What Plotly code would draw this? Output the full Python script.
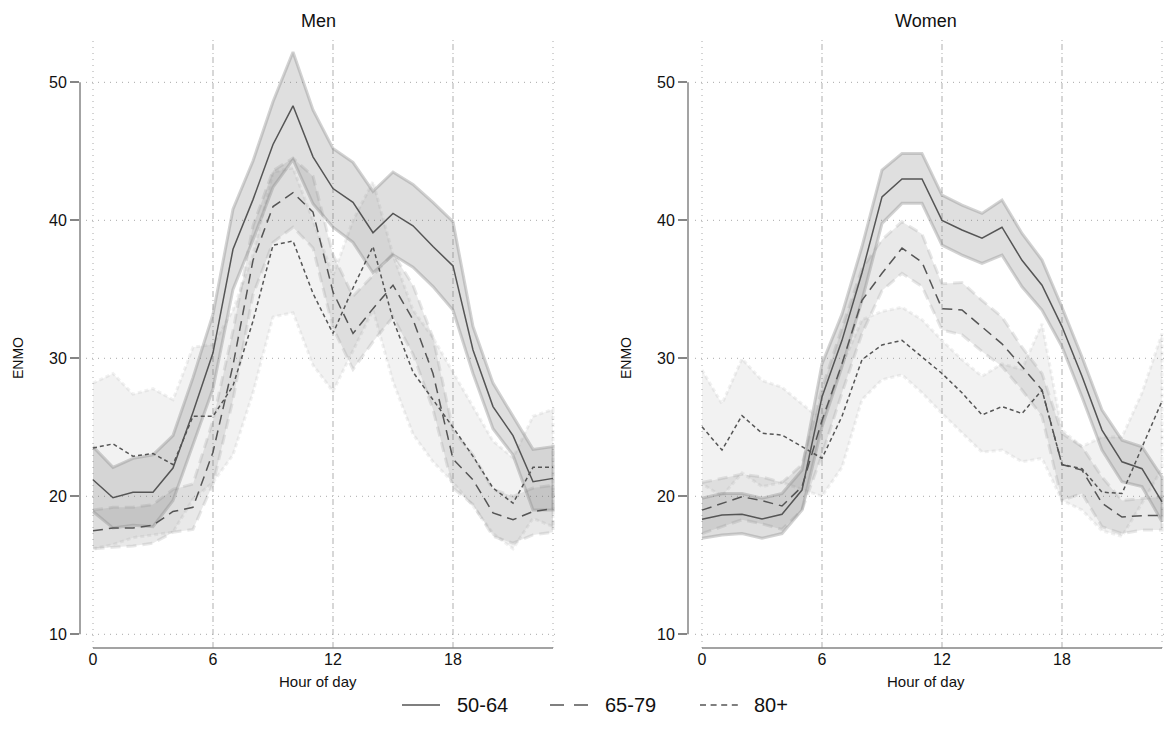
import plotly.graph_objects as go

# ---- data: mean ENMO by hour of day, with 95% confidence bands ----
hours = list(range(24))

men_5064 = [21.2, 19.9, 20.3, 20.3, 22.05, 26.1, 30.4, 37.9, 41.5, 45.5, 48.3, 44.6,
            42.3, 41.3, 39.1, 40.5, 39.6, 38.1, 36.7, 30.6, 26.5, 24.4, 21.06, 21.3]
men_5064_hi = [23.6, 22.1, 22.75, 23.0, 24.4, 28.6, 33.2, 40.8, 44.3, 48.6, 52.2, 48.0,
               45.2, 44.2, 42.1, 43.5, 42.6, 41.3, 39.9, 32.3, 28.2, 25.8, 23.4, 23.6]
men_5064_lo = [18.9, 17.7, 17.9, 17.8, 19.7, 23.7, 27.8, 35.0, 38.6, 42.4, 44.4, 41.2,
               39.5, 38.4, 36.2, 37.5, 36.6, 35.2, 33.5, 28.9, 24.9, 23.0, 19.0, 19.0]

men_6579 = [17.5, 17.7, 17.7, 17.9, 18.9, 19.2, 23.2, 29.5, 37.1, 41.0, 42.0, 40.6,
            34.8, 31.8, 33.6, 35.3, 32.8, 28.9, 22.7, 21.2, 18.8, 18.3, 18.9, 19.1]
men_6579_hi = [19.0, 19.2, 19.2, 19.4, 20.5, 20.9, 25.5, 32.0, 39.6, 43.6, 44.5, 43.2,
               37.5, 34.5, 36.0, 37.6, 35.3, 31.5, 24.8, 23.0, 20.5, 20.0, 20.6, 20.8]
men_6579_lo = [16.2, 16.3, 16.4, 16.6, 17.4, 17.6, 20.9, 27.0, 34.6, 38.4, 39.5, 38.0,
               32.2, 29.2, 31.2, 33.0, 30.3, 26.3, 20.6, 19.4, 17.1, 16.6, 17.2, 17.4]

men_80 = [23.5, 23.8, 22.9, 23.1, 22.3, 25.8, 25.8, 28.0, 32.7, 38.2, 38.5, 34.7,
          31.8, 35.1, 38.1, 32.8, 29.0, 27.0, 25.0, 22.9, 20.6, 19.5, 22.1, 22.1]
men_80_hi = [28.2, 28.9, 27.4, 27.8, 27.0, 30.8, 31.0, 33.5, 37.5, 43.5, 43.8, 40.0,
             36.0, 40.0, 42.8, 37.5, 33.5, 31.5, 29.0, 26.5, 24.0, 22.8, 25.8, 26.3]
men_80_lo = [16.2, 16.5, 17.0, 17.2, 17.4, 19.8, 21.0, 23.0, 27.5, 33.0, 33.3, 29.5,
             27.6, 30.5, 33.5, 28.3, 24.5, 22.5, 21.0, 19.3, 17.3, 16.2, 18.4, 17.8]

women_5064 = [18.33, 18.65, 18.7, 18.35, 18.7, 20.45, 27.2, 31.3, 36.2, 41.7, 43.0, 43.0,
              40.0, 39.3, 38.7, 39.5, 37.1, 35.3, 32.3, 28.7, 24.8, 22.5, 22.0, 19.6]
women_5064_hi = [19.86, 20.2, 20.2, 19.86, 20.2, 21.9, 29.6, 33.2, 38.1, 43.64, 44.85, 44.85,
                 41.83, 41.1, 40.5, 41.47, 39.05, 37.12, 33.7, 30.1, 26.25, 24.07, 23.59, 21.4]
women_5064_lo = [16.96, 17.2, 17.3, 16.96, 17.3, 19.0, 25.04, 29.4, 34.2, 39.78, 41.23, 41.23,
                 38.21, 37.48, 36.88, 37.48, 35.18, 33.5, 30.84, 27.2, 23.35, 21.06, 20.7, 18.16]

women_6579 = [19.0, 19.5, 19.97, 19.68, 19.3, 20.7, 25.5, 29.6, 34.2, 36.16, 37.99, 36.96,
              33.6, 33.5, 32.25, 31.05, 29.4, 27.7, 22.3, 21.9, 19.5, 18.5, 18.6, 18.6]
women_6579_hi = [21.0, 21.3, 21.6, 21.4, 21.0, 22.3, 27.8, 32.2, 36.5, 38.6, 39.9, 39.0,
                 35.4, 35.5, 34.2, 33.0, 30.8, 28.9, 24.56, 23.6, 21.4, 19.7, 19.85, 19.97]
women_6579_lo = [17.3, 17.8, 18.3, 18.0, 17.6, 19.0, 23.0, 27.5, 31.8, 34.9, 36.16, 35.2,
                 32.05, 31.7, 30.5, 29.4, 27.7, 25.8, 19.7, 20.2, 17.8, 17.3, 17.55, 17.55]

women_80 = [25.04, 23.35, 25.85, 24.57, 24.44, 23.6, 22.75, 25.8, 29.9, 30.97, 31.3, 30.1,
            28.9, 27.5, 25.9, 26.5, 26.0, 27.7, 22.3, 22.0, 20.3, 20.2, 23.5, 26.9]
women_80_hi = [29.15, 26.7, 29.96, 28.4, 27.9, 26.7, 25.5, 29.5, 32.8, 33.4, 33.7, 32.8,
               31.3, 29.9, 28.7, 29.6, 29.2, 32.5, 24.8, 23.6, 24.3, 24.3, 27.5, 31.8]
women_80_lo = [20.9, 20.0, 21.7, 20.7, 21.0, 20.5, 20.0, 22.1, 27.0, 28.45, 28.8, 27.5,
               26.0, 24.6, 23.2, 23.35, 22.5, 22.75, 19.7, 19.0, 17.5, 17.1, 19.5, 22.0]

age_groups = ["50-64", "65-79", "80+"]
panel_titles = ["Men", "Women"]
y_ticks = [10, 20, 30, 40, 50]
x_ticks = [0, 6, 12, 18]
x_lines_dashdot = [6, 12, 18]
x_lines_dotted = [0, 23]

panels = [
    {"50-64": (men_5064, men_5064_lo, men_5064_hi),
     "65-79": (men_6579, men_6579_lo, men_6579_hi),
     "80+": (men_80, men_80_lo, men_80_hi)},
    {"50-64": (women_5064, women_5064_lo, women_5064_hi),
     "65-79": (women_6579, women_6579_lo, women_6579_hi),
     "80+": (women_80, women_80_lo, women_80_hi)},
]

# ---- styling ----
W, H = 1165, 745
FONT = "Arial, 'Liberation Sans', Helvetica, sans-serif"
TEXT_COLOR = "#111111"
LINE_COLOR = "#555555"
AXIS_COLOR = "#858585"
GRID_COLOR = "#a8a8a8"

line_dash = {"50-64": "solid", "65-79": "10px,6px", "80+": "4px,3px"}
legend_dash = {"50-64": "solid", "65-79": "14px,10px", "80+": "6px,4.6px"}
band_fill = {"50-64": "rgba(110,110,110,0.22)",
             "65-79": "rgba(110,110,110,0.15)",
             "80+": "rgba(110,110,110,0.09)"}
band_edge = {"50-64": "rgba(140,140,140,0.38)",
             "65-79": "rgba(140,140,140,0.20)",
             "80+": "rgba(140,140,140,0.12)"}

# pixel layout of the two plot regions
plot_px = [(80, 556), (688, 1164)]
x_ranges = [[-0.65, 23.15], [-0.7, 23.1]]
top_px, bottom_px = 39, 648
y_range = [9.007, 53.14]
y_dom = [1 - bottom_px / H, 1 - top_px / H]

# legend key positions (pixels): sample start, text start
legend_y_px = 705
legend_key_px = [(402, 455), (550, 603), (700, 752)]
legend_sample_len = 38

fig = go.Figure()

for p, data in enumerate(panels):
    xa = "x" if p == 0 else "x2"
    ya = "y" if p == 0 else "y2"
    # confidence bands
    for g in ["80+", "65-79", "50-64"]:
        mean, lo, hi = data[g]
        fig.add_trace(go.Scatter(
            x=hours + hours[::-1], y=hi + lo[::-1],
            fill="toself", fillcolor=band_fill[g], mode="lines",
            line=dict(color=band_edge[g], width=3, dash=line_dash[g]),
            hoverinfo="skip", showlegend=False, xaxis=xa, yaxis=ya))
    # mean lines
    for g in age_groups:
        mean, lo, hi = data[g]
        fig.add_trace(go.Scatter(
            x=hours, y=mean, mode="lines", name=g,
            line=dict(color=LINE_COLOR, width=1.5, dash=line_dash[g]),
            showlegend=False, xaxis=xa, yaxis=ya))

shapes = []
for p in range(2):
    xr = "x" if p == 0 else "x2"
    yr = "y" if p == 0 else "y2"
    # horizontal dotted grid
    for v in y_ticks:
        shapes.append(dict(type="line", xref=xr, yref=yr, x0=-0.35, x1=23.35, y0=v, y1=v,
                           line=dict(color=GRID_COLOR, width=1, dash="1px,5px"), layer="below"))
    # vertical reference lines
    for v in x_lines_dotted:
        shapes.append(dict(type="line", xref=xr, yref=yr + " domain", x0=v, x1=v, y0=0, y1=1,
                           line=dict(color=GRID_COLOR, width=1, dash="1px,5px"), layer="below"))
    for v in x_lines_dashdot:
        shapes.append(dict(type="line", xref=xr, yref=yr + " domain", x0=v, x1=v, y0=0, y1=1,
                           line=dict(color="#bdbdbd", width=1.2, dash="6px,3px,1px,3px"), layer="below"))
    # axis lines spanning the tick range only
    shapes.append(dict(type="line", xref=xr + " domain", yref=yr, x0=0, x1=0,
                       y0=y_ticks[0], y1=y_ticks[-1], line=dict(color=AXIS_COLOR, width=1.5)))
    shapes.append(dict(type="line", xref=xr, yref=yr + " domain", x0=hours[0], x1=hours[-1],
                       y0=0, y1=0, line=dict(color=AXIS_COLOR, width=1.5)))

annotations = []
for p in range(2):
    x0, x1 = plot_px[p]
    cx = (x0 + x1) / 2 / W
    annotations.append(dict(text=panel_titles[p], x=cx, y=1 - 21 / H, xref="paper", yref="paper",
                            xanchor="center", yanchor="middle", showarrow=False,
                            font=dict(size=18, color=TEXT_COLOR, family=FONT)))
    annotations.append(dict(text="Hour of day", x=cx, y=1 - 681 / H, xref="paper", yref="paper",
                            xanchor="center", yanchor="middle", showarrow=False,
                            font=dict(size=15, color=TEXT_COLOR, family=FONT)))
    annotations.append(dict(text="ENMO", x=(x0 - 62) / W, y=1 - 358 / H, xref="paper", yref="paper",
                            xanchor="center", yanchor="middle", textangle=-90, showarrow=False,
                            font=dict(size=14, color=TEXT_COLOR, family=FONT)))

# shared legend below both panels
ly = 1 - legend_y_px / H
for g, (sx, tx) in zip(age_groups, legend_key_px):
    shapes.append(dict(type="line", xref="paper", yref="paper",
                       x0=sx / W, x1=(sx + legend_sample_len) / W, y0=ly, y1=ly,
                       line=dict(color=LINE_COLOR, width=1.5, dash=legend_dash[g])))
    annotations.append(dict(text=g, x=tx / W, y=ly, xref="paper", yref="paper",
                            xanchor="left", yanchor="middle", showarrow=False,
                            font=dict(size=20, color=TEXT_COLOR, family=FONT)))

axis_common = dict(showgrid=False, zeroline=False, showline=False)
layout = dict(
    width=W, height=H,
    margin=dict(l=0, r=0, t=0, b=0),
    paper_bgcolor="white", plot_bgcolor="white",
    font=dict(family=FONT, color=TEXT_COLOR),
    shapes=shapes, annotations=annotations,
    showlegend=False,
)
for p in range(2):
    x0, x1 = plot_px[p]
    xk = "xaxis" if p == 0 else "xaxis2"
    yk = "yaxis" if p == 0 else "yaxis2"
    layout[xk] = dict(domain=[x0 / W, x1 / W], range=x_ranges[p], tickvals=x_ticks,
                      ticks="", tickfont=dict(size=16, family=FONT, color=TEXT_COLOR),
                      anchor="y" if p == 0 else "y2", **axis_common)
    layout[yk] = dict(domain=y_dom, range=y_range, tickvals=y_ticks,
                      ticks="outside", ticklen=9, tickwidth=1.5, tickcolor=AXIS_COLOR,
                      tickfont=dict(size=16, family=FONT, color=TEXT_COLOR),
                      anchor="x" if p == 0 else "x2", **axis_common)

fig.update_layout(**layout)
fig.write_html("out.html")
